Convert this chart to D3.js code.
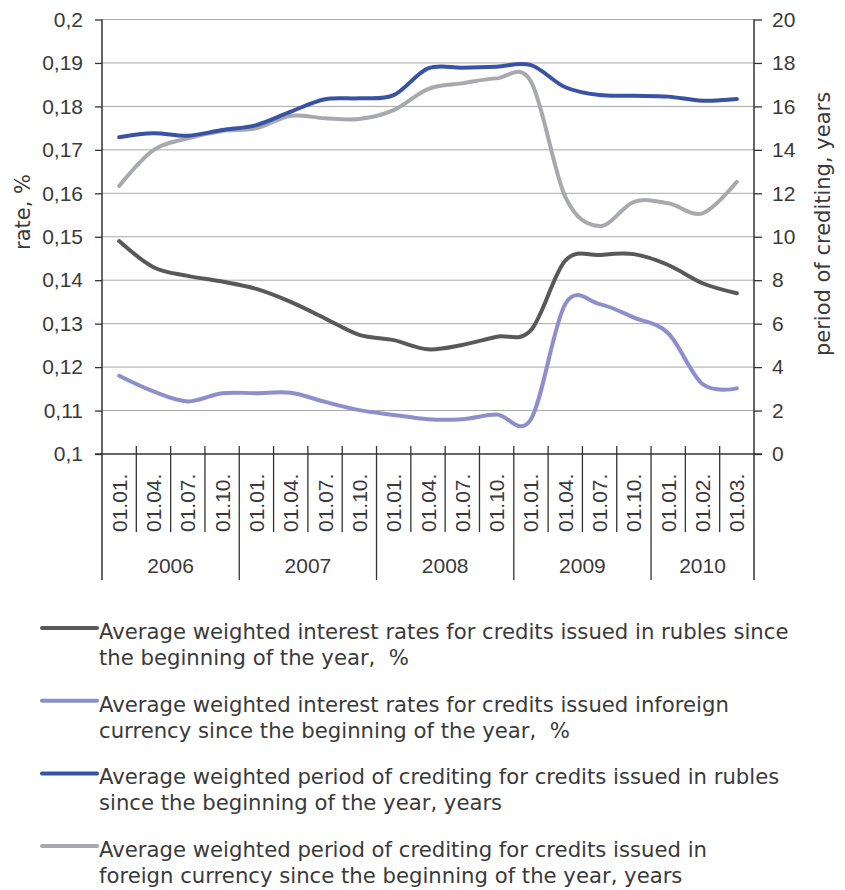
<!DOCTYPE html>
<html>
<head>
<meta charset="utf-8">
<script src="https://cdn.jsdelivr.net/npm/d3@7"></script>
<style>
  body { margin: 0; background: #fff; }
  text { font-family: "Liberation Sans", Arial, sans-serif; fill: #3a3a3a; }
</style>
</head>
<body>
<div id="chart"></div>
<script>
// categories (quarter / month labels) and their year groups
var dates = ["01.01.", "01.04.", "01.07.", "01.10.",
             "01.01.", "01.04.", "01.07.", "01.10.",
             "01.01.", "01.04.", "01.07.", "01.10.",
             "01.01.", "01.04.", "01.07.", "01.10.",
             "01.01.", "01.02.", "01.03."];
var years = ["2006", "2007", "2008", "2009", "2010"];
var yearSizes = [4, 4, 4, 4, 3];

// rates (left axis)
var rateRubles = [0.149, 0.143, 0.141, 0.1397, 0.138, 0.135, 0.1312, 0.1274, 0.1262, 0.1241,
                  0.1251, 0.127, 0.1285, 0.1445, 0.1458, 0.146, 0.1435, 0.1393, 0.137];
var rateForeign = [0.118, 0.1144, 0.1121, 0.114, 0.114, 0.1141, 0.112, 0.1101, 0.109, 0.108,
                   0.108, 0.1091, 0.108, 0.1345, 0.1345, 0.1314, 0.1278, 0.1161, 0.1151];

// periods (right axis)
var periodRubles = [14.58, 14.76, 14.65, 14.91, 15.14, 15.76, 16.33, 16.37, 16.52, 17.75,
                    17.78, 17.83, 17.9, 16.88, 16.52, 16.49, 16.45, 16.26, 16.34];
var periodForeign = [12.34, 13.99, 14.53, 14.87, 14.99, 15.57, 15.45, 15.42, 15.83, 16.8,
                     17.06, 17.29, 17.15, 11.84, 10.49, 11.61, 11.54, 11.08, 12.53];

var rateTicks = [0.1, 0.11, 0.12, 0.13, 0.14, 0.15, 0.16, 0.17, 0.18, 0.19, 0.2];
var periodTicks = [0, 2, 4, 6, 8, 10, 12, 14, 16, 18, 20];

var legendNames = [
  ["Average weighted interest rates for credits issued in rubles since", "the beginning of the year,  %"],
  ["Average weighted interest rates for credits issued inforeign", "currency since the beginning of the year,  %"],
  ["Average weighted period of crediting for credits issued in rubles", "since the beginning of the year, years"],
  ["Average weighted period of crediting for credits issued in", "foreign currency since the beginning of the year, years"]
];

var width = 845;
var height = 890;
// plot edges (not named top/left: those clash with window globals)
var plotLeft = 102, plotRight = 754, plotTop = 19.5, plotBottom = 454;

window.onload = function() {
  var svg = d3.select("#chart")
    .append("svg")
    .attr("width", width)
    .attr("height", height);

  var x = d3.scaleBand()
    .domain(d3.range(dates.length))
    .range([plotLeft, plotRight]);

  var yRate = d3.scaleLinear().domain([0.1, 0.2]).range([plotBottom, plotTop]);
  var yPeriod = d3.scaleLinear().domain([0, 20]).range([plotBottom, plotTop]);

  var comma = function(v) { return String(+v.toFixed(2)).replace(".", ","); };

  // grid lines
  svg.append("g")
    .selectAll("line")
    .data(rateTicks.slice(1))
    .enter()
    .append("line")
    .attr("x1", plotLeft)
    .attr("x2", plotRight)
    .attr("y1", function(d) { return yRate(d); })
    .attr("y2", function(d) { return yRate(d); })
    .attr("stroke", "#a8a8a8")
    .attr("stroke-width", 1);

  // left axis
  var leftAxis = svg.append("g")
    .attr("transform", "translate(" + plotLeft + ",0)")
    .call(d3.axisLeft(yRate).tickValues(rateTicks).tickFormat(comma).tickSize(7).tickPadding(12));
  leftAxis.select(".domain").remove();

  // right axis
  var rightAxis = svg.append("g")
    .attr("transform", "translate(" + plotRight + ",0)")
    .call(d3.axisRight(yPeriod).tickValues(periodTicks).tickSize(8).tickPadding(10));
  rightAxis.select(".domain").remove();

  svg.selectAll(".tick line").attr("stroke", "#333").attr("stroke-width", 1.3);
  svg.selectAll(".tick text")
    .style("font-family", "'Liberation Sans', Arial, sans-serif")
    .style("font-size", "21px")
    .attr("fill", "#3a3a3a");

  // vertical axis lines (down to the year row)
  [plotLeft, plotRight].forEach(function(px) {
    svg.append("line")
      .attr("x1", px).attr("x2", px)
      .attr("y1", plotTop).attr("y2", 580)
      .attr("stroke", "#333").attr("stroke-width", 1.5);
  });

  // bottom axis line
  svg.append("line")
    .attr("x1", plotLeft - 7).attr("x2", plotRight + 8)
    .attr("y1", plotBottom).attr("y2", plotBottom)
    .attr("stroke", "#333").attr("stroke-width", 1.5);

  // category boundaries, longer ones between years
  var yearStarts = [0];
  yearSizes.forEach(function(n, i) { yearStarts.push(yearStarts[i] + n); });

  svg.append("g")
    .selectAll("line")
    .data(d3.range(1, dates.length))
    .enter()
    .append("line")
    .attr("x1", function(i) { return x(i); })
    .attr("x2", function(i) { return x(i); })
    .attr("y1", plotBottom - 8)
    .attr("y2", function(i) { return yearStarts.indexOf(i) >= 0 ? 580 : 532; })
    .attr("stroke", "#333")
    .attr("stroke-width", 1.3);

  // rotated date labels
  svg.append("g")
    .selectAll("text")
    .data(dates)
    .enter()
    .append("text")
    .attr("transform", function(d, i) {
      return "translate(" + (x(i) + x.bandwidth() / 2 + 7.5) + ",532)rotate(-90)";
    })
    .attr("text-anchor", "start")
    .style("font-size", "21px")
    .text(function(d) { return d; });

  // year labels
  svg.append("g")
    .selectAll("text")
    .data(years)
    .enter()
    .append("text")
    .attr("x", function(d, i) {
      var a = x(yearStarts[i]);
      var b = yearStarts[i + 1] < dates.length ? x(yearStarts[i + 1]) : plotRight;
      return (a + b) / 2;
    })
    .attr("y", 573)
    .attr("text-anchor", "middle")
    .style("font-size", "21px")
    .text(function(d) { return d; });

  // axis titles
  svg.append("text")
    .attr("transform", "translate(30,212)rotate(-90)")
    .attr("text-anchor", "middle")
    .style("font-family", "'DejaVu Sans', sans-serif")
    .style("font-size", "21px")
    .text("rate, %");

  svg.append("text")
    .attr("transform", "translate(830,224)rotate(-90)")
    .attr("text-anchor", "middle")
    .style("font-family", "'DejaVu Sans', sans-serif")
    .style("font-size", "21px")
    .text("period of crediting, years");

  // series
  var series = [
    { values: rateRubles, scale: yRate, color: "#58595b" },
    { values: rateForeign, scale: yRate, color: "#8c8fcc" },
    { values: periodRubles, scale: yPeriod, color: "#3953a4" },
    { values: periodForeign, scale: yPeriod, color: "#a7a9ac" }
  ];

  var drawOrder = [3, 2, 1, 0];
  drawOrder.forEach(function(k) {
    var s = series[k];
    var line = d3.line()
      .x(function(d, i) { return x(i) + x.bandwidth() / 2; })
      .y(function(d) { return s.scale(d); })
      .curve(d3.curveCardinal.tension(0));
    svg.append("path")
      .datum(s.values)
      .attr("d", line)
      .attr("fill", "none")
      .attr("stroke", s.color)
      .attr("stroke-width", 4)
      .attr("stroke-linecap", "round");
  });

  // legend
  var legend = svg.append("g")
    .selectAll("g")
    .data(legendNames)
    .enter()
    .append("g")
    .attr("transform", function(d, i) { return "translate(0," + (i * 72.7) + ")"; });

  legend.append("line")
    .attr("x1", 42).attr("x2", 97)
    .attr("y1", 628).attr("y2", 628)
    .attr("stroke", function(d, i) { return series[i].color; })
    .attr("stroke-width", 4)
    .attr("stroke-linecap", "round");

  legend.append("text")
    .attr("x", 99)
    .attr("y", 639)
    .style("font-family", "'DejaVu Sans', sans-serif")
    .style("font-size", "21.2px")
    .style("white-space", "pre")
    .text(function(d) { return d[0]; });

  legend.append("text")
    .attr("x", 99)
    .attr("y", 665)
    .style("font-family", "'DejaVu Sans', sans-serif")
    .style("font-size", "21.2px")
    .style("white-space", "pre")
    .text(function(d) { return d[1]; });
};
</script>
</body>
</html>
